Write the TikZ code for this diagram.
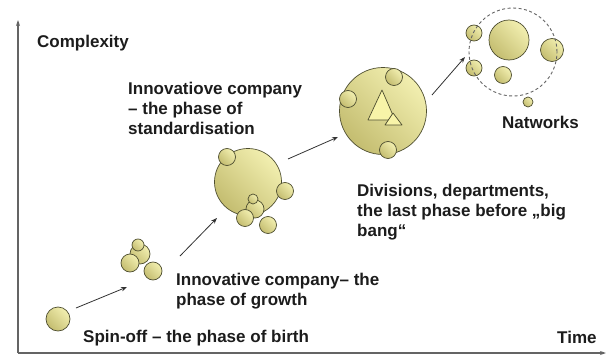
\documentclass[tikz,border=0pt]{standalone}
\usepackage{fontspec}
\setmainfont{Liberation Sans}
\usetikzlibrary{arrows.meta}
\definecolor{ballA}{RGB}{242,239,176}
\definecolor{ballB}{RGB}{196,189,112}
\definecolor{ballEdge}{RGB}{78,78,48}
\definecolor{triFill}{RGB}{248,244,168}
\definecolor{txt}{RGB}{28,28,28}
\definecolor{axisc}{RGB}{100,100,100}
\definecolor{arrc}{RGB}{50,50,50}
\begin{document}
\begin{tikzpicture}[x=1pt,y=-1pt,
  ball/.style={circle, draw=ballEdge, line width=0.7pt, inner sep=0pt,
    top color=ballB, bottom color=ballA, shading angle=135, minimum size=#1},
  ball/.default=16pt,
  tri/.style={draw=ballEdge, line width=0.7pt, fill=triFill, line join=round},
  lbl/.style={text=txt, inner sep=0pt, anchor=base west,
    font=\fontsize{17}{20}\selectfont\bfseries},
  axisline/.style={draw=axisc, line width=1.1pt, -{Stealth[length=6pt,width=4pt]}},
  phasearrow/.style={draw=arrc, line width=0.8pt, -{Stealth[length=6pt,width=4.5pt]}},
  netring/.style={draw=axisc, line width=0.9pt, dashed, dash pattern=on 3pt off 2.5pt}
]
\useasboundingbox (0,0) rectangle (606,356);

% axes
\coordinate (o) at (18,353);
\coordinate (ytop) at (18,20);
\coordinate (xend) at (606,353);
\draw[axisline] (o) -- (ytop);
\draw[axisline] (o) -- (xend);

% labels
\node[lbl] (complexity) at (37,47) {Complexity};
\node[lbl] (time) at (557,343) {Time};
\node[lbl] (birth) at (83,342) {Spin-off – the phase of birth};
\node[lbl] (growth) at (176,285) {\begin{tabular}[t]{@{}l@{}}Innovative company– the\\phase of growth\end{tabular}};
\node[lbl] (standard) at (128,94) {\begin{tabular}[t]{@{}l@{}}Innovatiove company\\– the phase of\\standardisation\end{tabular}};
\node[lbl] (divisions) at (357,196) {\begin{tabular}[t]{@{}l@{}}Divisions, departments,\\the last phase before „big\\bang“\end{tabular}};
\node[lbl] (networks) at (502,128) {Natworks};

% phase 1: spin-off
\node[ball=24pt] (b1) at (58,319) {};

% phase 2: growth
\node[ball=20pt] (g0) at (140,254) {};
\node[ball=12pt] (g1) at (138,245) {};
\node[ball=18pt] (g2) at (130,263) {};
\node[ball=18pt] (g3) at (153,271) {};

% phase 3: standardisation
\node[ball=67pt] (s0) at (248,182) {};
\node[ball=17pt] (s1) at (227,157) {};
\node[ball=17pt] (s2) at (285,191) {};
\node[ball=18pt] (s3) at (255,209) {};
\node[ball=10pt] (s4) at (253,199) {};
\node[ball=17pt] (s5) at (245,218) {};
\node[ball=17pt] (s6) at (268,225) {};

% phase 4: divisions
\node[ball=87pt] (d0) at (383,111) {};
\node[ball=17pt] (d1) at (394,77) {};
\node[ball=17pt] (d2) at (348,99) {};
\node[ball=17pt] (d3) at (388,150) {};
\draw[tri] (382,90) -- (395,120) -- (368,120) -- cycle;
\draw[tri] (393,113) -- (402,125) -- (385,125) -- cycle;

% phase 5: networks
\node[ball=40pt] (n0) at (509,40) {};
\node[ball=23pt] (n1) at (552,50) {};
\node[ball=16pt] (n2) at (474,33) {};
\node[ball=16pt] (n3) at (474,68) {};
\node[ball=17pt] (n4) at (503,75) {};
\node[ball=10pt] (n5) at (528,102) {};
\node[netring, circle, minimum size=88pt, inner sep=0pt] (ring) at (513,52) {};

% phase arrows
\coordinate (a1s) at (76,308);  \coordinate (a1e) at (127,287);
\coordinate (a2s) at (180,256); \coordinate (a2e) at (217,218);
\coordinate (a3s) at (288,159); \coordinate (a3e) at (338,137);
\coordinate (a4s) at (432,95);  \coordinate (a4e) at (465,57);
\draw[phasearrow] (a1s) -- (a1e);
\draw[phasearrow] (a2s) -- (a2e);
\draw[phasearrow] (a3s) -- (a3e);
\draw[phasearrow] (a4s) -- (a4e);
\end{tikzpicture}
\end{document}
